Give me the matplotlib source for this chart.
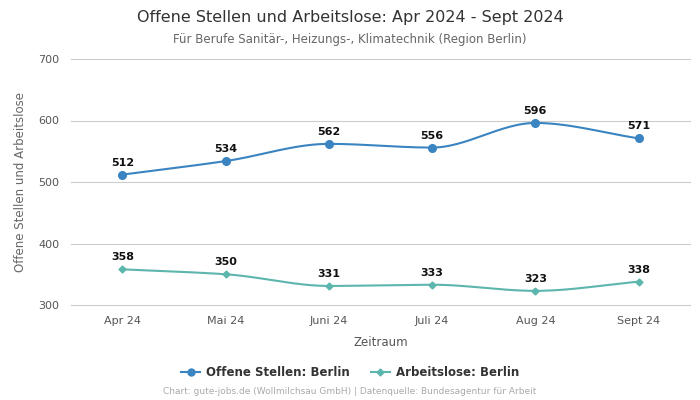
import numpy as np
import matplotlib
matplotlib.use("Agg")
import matplotlib.pyplot as plt
from matplotlib.lines import Line2D

months = ['Apr 24', 'Mai 24', 'Juni 24', 'Juli 24', 'Aug 24', 'Sept 24']
offene_stellen = [512, 534, 562, 556, 596, 571]
arbeitslose = [358, 350, 331, 333, 323, 338]

blue = '#3a84c1'
teal = '#5cb6ad'


def smooth(y, n=30):
    # monotone cubic (Fritsch-Carlson) for a smooth line through the points
    y = np.asarray(y, float)
    x = np.arange(len(y), dtype=float)
    d = np.diff(y)
    m = np.zeros_like(y)
    m[0], m[-1] = d[0], d[-1]
    for i in range(1, len(y) - 1):
        if d[i - 1] * d[i] <= 0:
            m[i] = 0
        else:
            m[i] = 2 / (1 / d[i - 1] + 1 / d[i])
    xs, ys = [], []
    for i in range(len(y) - 1):
        t = np.linspace(0, 1, n)
        h00 = 2 * t**3 - 3 * t**2 + 1
        h10 = t**3 - 2 * t**2 + t
        h01 = -2 * t**3 + 3 * t**2
        h11 = t**3 - t**2
        xs.append(x[i] + t)
        ys.append(h00 * y[i] + h10 * m[i] + h01 * y[i + 1] + h11 * m[i + 1])
    return np.concatenate(xs), np.concatenate(ys)


fig = plt.figure(figsize=(7, 4), dpi=100)
ax = fig.add_axes([0.101, 0.2375, 0.885, 0.615])

x = np.arange(len(months))
for vals, col, mk, ms in [(offene_stellen, blue, 'o', 5.5), (arbeitslose, teal, 'D', 3.5)]:
    sx, sy = smooth(vals)
    ax.plot(sx, sy, color=col, lw=1.5, zorder=3)
    ax.plot(x, vals, ls='none', marker=mk, ms=ms, color=col, zorder=4)
    for xi, v in zip(x, vals):
        ax.annotate(str(v), (xi, v), xytext=(0, 5), textcoords='offset points',
                    ha='center', va='bottom', fontsize=8, fontweight='bold', color='#111')

ax.set_xlim(-0.5, len(months) - 0.5)
ax.set_ylim(300, 700)
ax.set_yticks([300, 400, 500, 600, 700])
ax.set_xticks(x)
ax.set_xticklabels(months)
ax.grid(axis='y', color='#cccccc', lw=0.8)
for gl in ax.get_ygridlines():
    gl.set_clip_on(False)
ax.set_axisbelow(True)
for s in ax.spines.values():
    s.set_visible(False)
ax.tick_params(length=0, labelsize=8, labelcolor='#555555', pad=8)
ax.set_xlabel('Zeitraum', fontsize=8.5, color='#555555', labelpad=7)
ax.set_ylabel('Offene Stellen und Arbeitslose', fontsize=8.5, color='#666666', labelpad=8)

fig.text(0.5, 0.957, 'Offene Stellen und Arbeitslose: Apr 2024 - Sept 2024',
         ha='center', va='center', fontsize=11.5, color='#333333')
fig.text(0.5, 0.902, 'Für Berufe Sanitär-, Heizungs-, Klimatechnik (Region Berlin)',
         ha='center', va='center', fontsize=8.5, color='#666666')

handles = [Line2D([], [], color=blue, marker='o', ms=5, lw=1.5),
           Line2D([], [], color=teal, marker='D', ms=3.5, lw=1.5)]
leg = fig.legend(handles, ['Offene Stellen: Berlin', 'Arbeitslose: Berlin'],
                 loc='center', bbox_to_anchor=(0.5, 0.068), ncol=2, frameon=False,
                 handlelength=1.6, columnspacing=1.8, handletextpad=0.5,
                 prop={'weight': 'bold', 'size': 8.5})
for t in leg.get_texts():
    t.set_color('#333333')

fig.text(0.5, 0.02, 'Chart: gute-jobs.de (Wollmilchsau GmbH) | Datenquelle: Bundesagentur für Arbeit',
         ha='center', va='center', fontsize=6.5, color='#aaaaaa')

fig.savefig('out.png', dpi=100)
